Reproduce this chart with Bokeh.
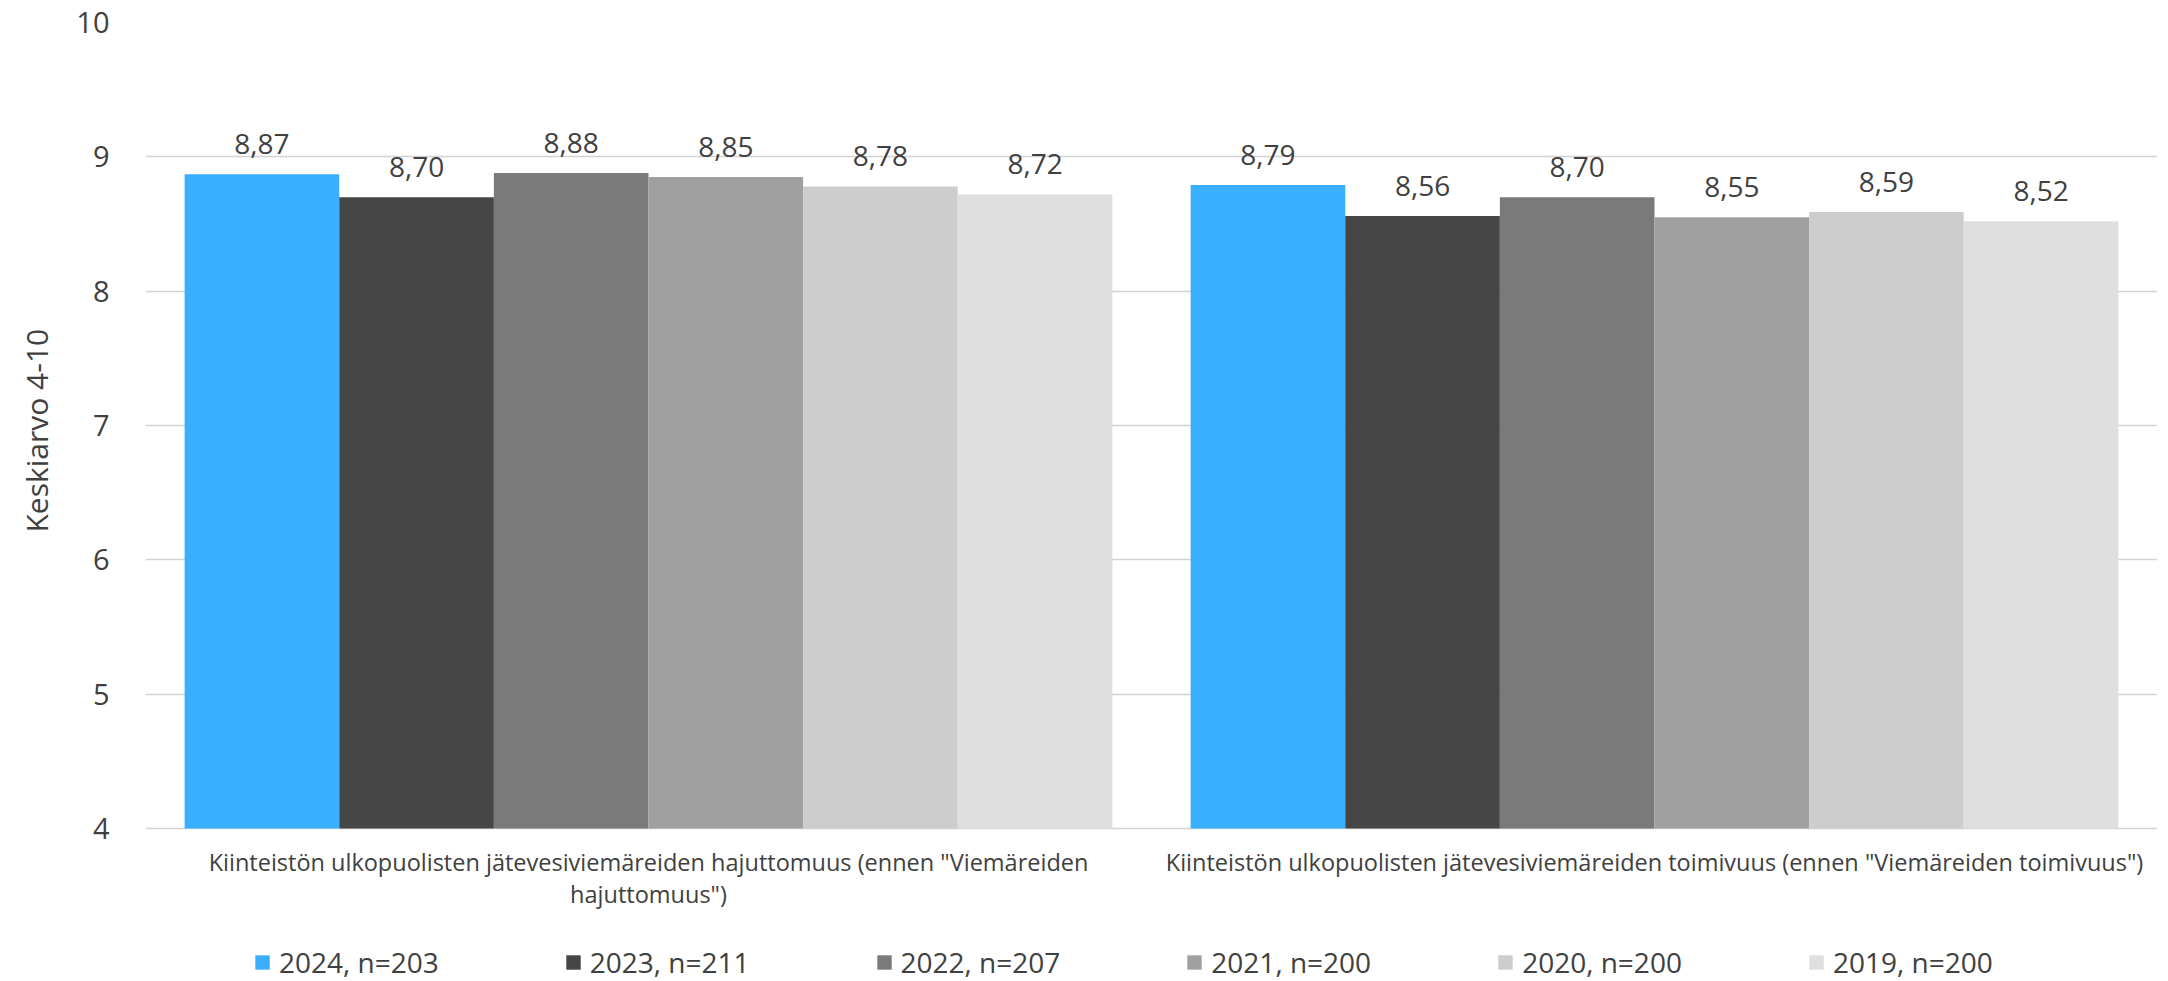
from bokeh.plotting import figure
from bokeh.models import (ColumnDataSource, FactorRange, Range1d, Legend, LegendItem,
                          FixedTicker, NumeralTickFormatter, Title)
from bokeh.transform import dodge
from bokeh.core.properties import value
from bokeh.embed import file_html
from bokeh.resources import INLINE

# --- data -------------------------------------------------------------
categories = [
    'Kiinteistön ulkopuolisten jätevesiviemäreiden hajuttomuus (ennen "Viemäreiden hajuttomuus")',
    'Kiinteistön ulkopuolisten jätevesiviemäreiden toimivuus (ennen "Viemäreiden toimivuus")',
]
category_labels = [
    'Kiinteistön ulkopuolisten jätevesiviemäreiden hajuttomuus (ennen "Viemäreiden\nhajuttomuus")',
    'Kiinteistön ulkopuolisten jätevesiviemäreiden toimivuus (ennen "Viemäreiden toimivuus")',
]
series_names = ["2024, n=203", "2023, n=211", "2022, n=207",
                "2021, n=200", "2020, n=200", "2019, n=200"]
values_2024 = [8.87, 8.79]
values_2023 = [8.70, 8.56]
values_2022 = [8.88, 8.70]
values_2021 = [8.85, 8.55]
values_2020 = [8.78, 8.59]
values_2019 = [8.72, 8.52]
y_ticks = [4, 5, 6, 7, 8, 9, 10]
y_title = "Keskiarvo 4-10"

series_values = [values_2024, values_2023, values_2022,
                 values_2021, values_2020, values_2019]
colors = ["#3BAFFF", "#464646", "#7A7A7A", "#A0A0A0", "#CDCDCD", "#DFDFDF"]

FONT = "Open Sans"
TXT = "#404040"
GRID = "#D3D3D3"

# canvas geometry: the value axis runs from the top border down to the
# baseline row; category labels and the legend sit in the frame below it
W, H = 2168, 981
TOP, BASE_PX = 22, 828
y_min, y_max = y_ticks[0], y_ticks[-1]
y_start = y_max - (y_max - y_min) * (H - TOP) / (BASE_PX - TOP)

p = figure(width=W, height=H, output_backend="svg", toolbar_location=None,
           x_range=FactorRange(*categories, range_padding=0),
           y_range=Range1d(y_start, y_max),
           x_axis_location=None,
           min_border_left=145, min_border_right=11,
           min_border_top=TOP, min_border_bottom=0)
p.outline_line_color = None
p.background_fill_color = "white"
p.border_fill_color = "white"

bar_w = 0.1537
items = []
for i, (name, vals, col) in enumerate(zip(series_names, series_values, colors)):
    src = ColumnDataSource(dict(
        cat=categories,
        val=vals,
        lbl=[f"{v:.2f}".replace(".", ",") for v in vals],
    ))
    off = (i - 2.5) * bar_w
    r = p.vbar(x=dodge("cat", off, range=p.x_range), top="val", bottom=y_min,
               width=bar_w, source=src, fill_color=col, line_color=None)
    p.text(x=dodge("cat", off, range=p.x_range), y="val", text="lbl", source=src,
           text_align="center", text_baseline="alphabetic", y_offset=-30,
           text_font=value(FONT), text_font_size="28px", text_color=TXT)
    items.append(LegendItem(label=name, renderers=[r]))

# category labels under the baseline
cat_src = ColumnDataSource(dict(cat=categories, lbl=category_labels,
                                base=[y_min] * len(categories)))
p.text(x="cat", y="base", text="lbl", source=cat_src,
       text_align="center", text_baseline="top", y_offset=17,
       text_line_height=1.0,
       text_font=value(FONT), text_font_size="23.5px", text_color=TXT)

# --- value axis -------------------------------------------------------
p.yaxis.ticker = FixedTicker(ticks=y_ticks)
p.yaxis.formatter = NumeralTickFormatter(format="0")
p.yaxis.axis_line_color = None
p.yaxis.major_tick_line_color = None
p.yaxis.minor_tick_line_color = None
p.yaxis.major_label_text_font = FONT
p.yaxis.major_label_text_font_size = "29px"
p.yaxis.major_label_text_color = TXT
p.yaxis.major_label_standoff = 30

# axis title, placed along the value span (not the full frame height)
p.add_layout(Title(text=y_title, align="left", vertical_align="top",
                   offset=449, standoff=29,
                   text_font=FONT, text_font_style="normal",
                   text_font_size="30px", text_color=TXT), "left")

for g in p.xgrid:
    g.grid_line_color = None
p.ygrid.grid_line_color = GRID
p.ygrid.grid_line_width = 1.5

# --- legend -----------------------------------------------------------
legend = Legend(items=items, orientation="horizontal", location=(108, 0),
                padding=0, margin=0, spacing=125, label_standoff=8,
                glyph_width=18, glyph_height=18,
                label_text_font=FONT, label_text_font_size="28px",
                label_text_color=TXT, border_line_color=None,
                background_fill_alpha=0)
p.add_layout(legend, "center")

open("out.html", "w").write(file_html(p, INLINE))
